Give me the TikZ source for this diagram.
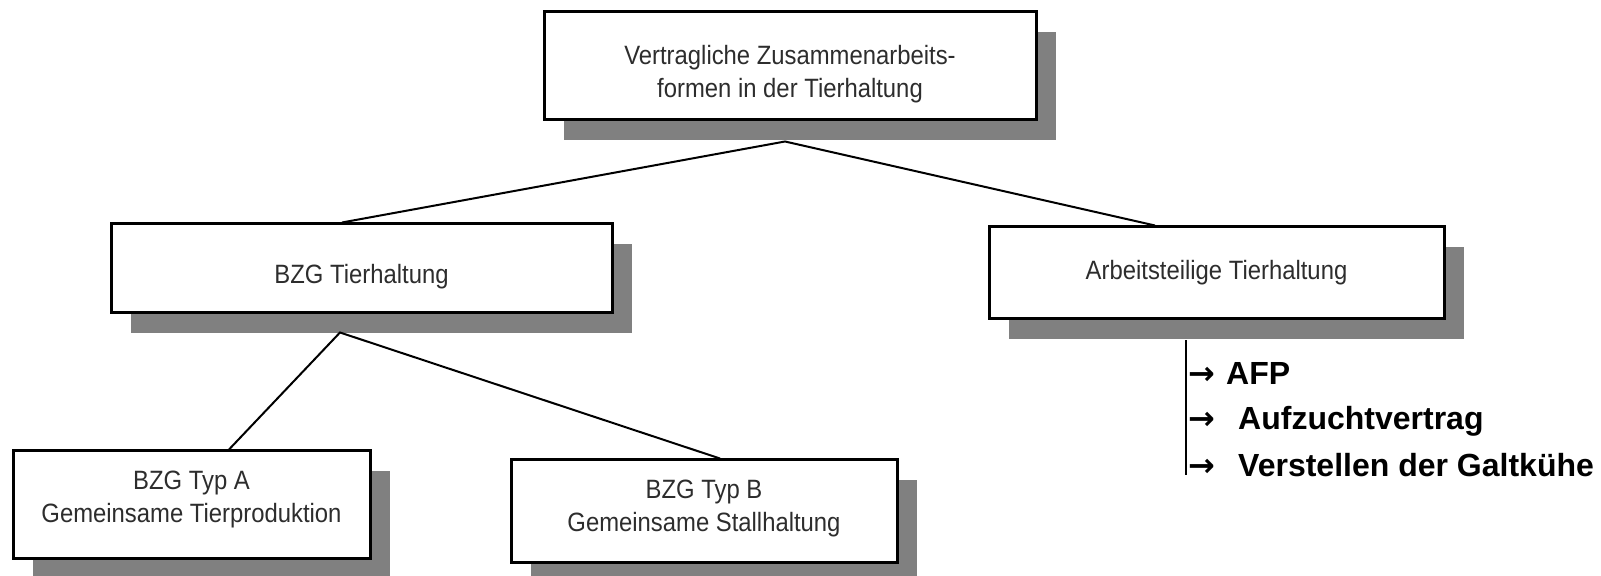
\documentclass[tikz,border=0pt]{standalone}
\usepackage{fontspec}
\setmainfont{Liberation Sans}
\newfontfamily\boxfont[FakeStretch=0.9]{Liberation Sans}
\newfontfamily\arrowfont{DejaVu Sans}
\usetikzlibrary{shadows}
\definecolor{shadowgray}{RGB}{128,128,128}
\definecolor{boxtext}{RGB}{45,45,45}
\newcommand{\itemarrow}{{\arrowfont\fontsize{16pt}{19pt}\selectfont →}}
\begin{document}
\begin{tikzpicture}[x=0.5pt,y=-0.5pt,
	box/.style={draw=black, line width=1.5pt, fill=white, align=center, inner sep=0pt,
		text=boxtext, font=\boxfont\fontsize{13.25pt}{16.5pt}\selectfont,
		drop shadow={shadow xshift=10pt, shadow yshift=-10pt, fill=shadowgray, opacity=1}},
	link/.style={line width=1pt},
	bar/.style={line width=1.3pt},
	item/.style={anchor=base west, inner sep=0pt, font=\fontsize{16pt}{19pt}\selectfont\bfseries}]
	\useasboundingbox (0,0) rectangle (1601,576);
	\node[box, minimum width=246pt, text height=43pt, text depth=11pt] (top) at (790,66) {Vertragliche Zusammenarbeits-\\formen in der Tierhaltung};
	\node[box, minimum width=250.5pt, text height=30pt, text depth=14.5pt] (bzg) at (361.5,268.5) {BZG Tierhaltung};
	\node[box, minimum width=227.5pt, text height=26.5pt, text depth=19.5pt] (arbeit) at (1216.5,273) {Arbeitsteilige Tierhaltung};
	\node[box, minimum width=178.5pt, text height=36pt, text depth=18pt] (typA) at (191.5,505) {BZG Typ A\\Gemeinsame Tierproduktion};
	\node[box, minimum width=193pt, text height=36pt, text depth=15.5pt] (typB) at (704,511.5) {BZG Typ B\\Gemeinsame Stallhaltung};
	\node[item] (afp) at (1188,385) {\itemarrow\hspace{5.5pt}AFP};
	\node[item] (aufzucht) at (1188,430) {\itemarrow\hspace{11.5pt}Aufzuchtvertrag};
	\node[item] (galt) at (1188,477) {\itemarrow\hspace{11.5pt}Verstellen der Galtkühe};
	\coordinate (barEnd) at (1186,475);
	\draw[link] ([xshift=-9.75pt]bzg.north) -- ([xshift=-2.5pt,yshift=-10pt]top.south) -- ([xshift=-30.75pt]arbeit.north);
	\draw[link] ([xshift=18.75pt]typA.north) -- ([xshift=-10.75pt,yshift=-9pt]bzg.south) -- ([xshift=8pt]typB.north);
	\draw[bar] ([xshift=-15.25pt,yshift=-10pt]arbeit.south) -- (barEnd);
\end{tikzpicture}
\end{document}
